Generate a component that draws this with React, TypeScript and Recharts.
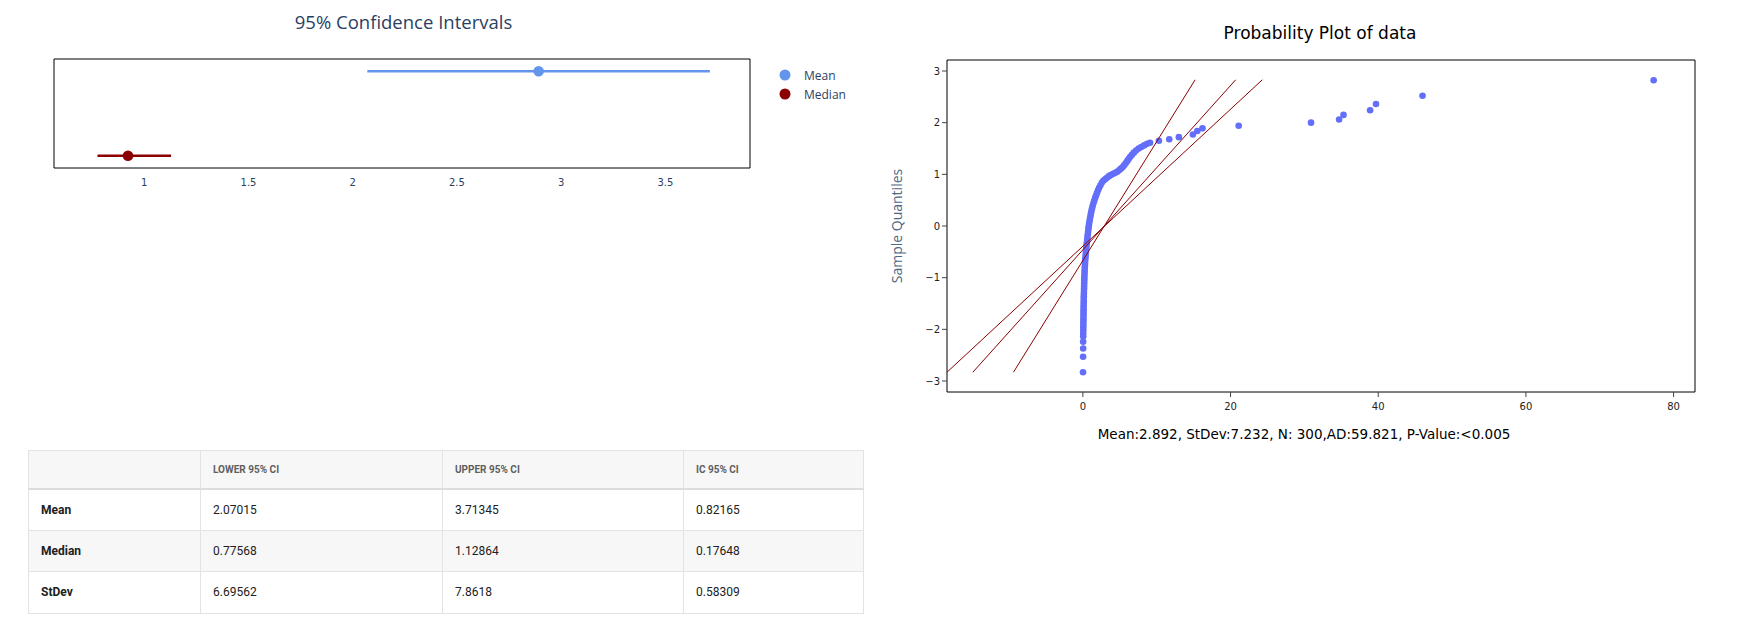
import React from 'react';
import { ScatterChart, Scatter, XAxis, YAxis, ErrorBar, ReferenceArea } from 'recharts';

// confidence interval panel
const ciSeries = ['Mean', 'Median'];
const ciEstimate = [2.892, 0.922];
const ciLower = [2.07015, 0.77568];
const ciUpper = [3.71345, 1.12864];
const ciRow = [1, 0];
const ciColors = ['#6495ed', '#8b0000'];
const ciTicks = [1, 1.5, 2, 2.5, 3, 3.5];

// summary table
const tableHeaders = ['', 'LOWER 95% CI', 'UPPER 95% CI', 'IC 95% CI'];
const tableRows = ['Mean', 'Median', 'StDev'];
const tableLower = ['2.07015', '0.77568', '6.69562'];
const tableUpper = ['3.71345', '1.12864', '7.8618'];
const tableWidth = ['0.82165', '0.17648', '0.58309'];

// probability plot: sample values (x) against normal quantiles (y)
const sampleValues = [
  0.02, 0.03, 0.04, 0.04, 0.05, 0.05, 0.06, 0.06, 0.07, 0.07,
  0.08, 0.08, 0.09, 0.09, 0.1, 0.1, 0.11, 0.12, 0.12, 0.13,
  0.14, 0.15, 0.16, 0.17, 0.18, 0.19, 0.2, 0.21, 0.23, 0.24,
  0.26, 0.28, 0.3, 0.32, 0.35, 0.38, 0.41, 0.44, 0.47, 0.51,
  0.55, 0.59, 0.63, 0.67, 0.71, 0.75, 0.79, 0.84, 0.9, 0.96,
  1.02, 1.09, 1.16, 1.24, 1.33, 1.43, 1.54, 1.66, 1.78, 1.91,
  2.05, 2.2, 2.38, 2.58, 2.8, 3.05, 3.3, 3.58, 3.85, 4.12,
  4.4, 4.65, 4.9, 5.15, 5.4, 5.62, 5.82, 6.02, 6.22, 6.42,
  6.65, 6.9, 7.2, 7.55, 7.9, 8.3, 8.7, 9.1, 10.3, 11.7,
  13.0, 14.9, 15.5, 16.2, 21.1, 30.9, 34.7, 35.3, 38.9, 39.7,
  46.0, 77.3,
];
const normalQuantiles = [
  -2.83, -2.53, -2.37, -2.24, -2.14, -2.08, -2.02, -1.96, -1.91, -1.86,
  -1.81, -1.76, -1.71, -1.66, -1.61, -1.56, -1.51, -1.46, -1.41, -1.36,
  -1.31, -1.26, -1.21, -1.16, -1.11, -1.06, -1.01, -0.96, -0.91, -0.86,
  -0.81, -0.76, -0.71, -0.66, -0.61, -0.56, -0.51, -0.46, -0.41, -0.36,
  -0.31, -0.26, -0.21, -0.16, -0.11, -0.06, -0.01, 0.04, 0.09, 0.14,
  0.19, 0.24, 0.29, 0.34, 0.39, 0.44, 0.49, 0.54, 0.59, 0.64,
  0.69, 0.74, 0.79, 0.84, 0.88, 0.91, 0.94, 0.97, 0.99, 1.01,
  1.03, 1.05, 1.08, 1.11, 1.14, 1.18, 1.22, 1.26, 1.3, 1.34,
  1.38, 1.42, 1.46, 1.5, 1.53, 1.56, 1.59, 1.61, 1.65, 1.68,
  1.72, 1.77, 1.84, 1.89, 1.94, 2.0, 2.06, 2.15, 2.24, 2.36,
  2.52, 2.82,
];

// reference lines, two end points each
const refQuantiles = [-2.83, 2.83];
const refLineSteep = [-9.4, 15.2];
const refLineMid = [-14.9, 20.7];
const refLineFlat = [-18.4, 24.3];

const probXTicks = [0, 20, 40, 60, 80];
const probYTicks = [-3, -2, -1, 0, 1, 2, 3];

const X_MIN = -18.4;
const X_MAX = 82.9;
const Y_LIM = 3.213;

const minus = (v: number) => (v < 0 ? `\u2212${Math.abs(v)}` : `${v}`);

function ConfidenceChart() {
  const series = ciSeries.map((name, i) => ({
    name,
    color: ciColors[i],
    data: [{ x: ciEstimate[i], y: ciRow[i], err: [ciEstimate[i] - ciLower[i], ciUpper[i] - ciEstimate[i]] }],
  }));

  return (
    <ScatterChart width={880} height={200} margin={{ top: 59, right: 130, bottom: 12, left: 54 }}>
      <XAxis
        type="number"
        dataKey="x"
        domain={[0.567, 3.906]}
        ticks={ciTicks}
        interval={0}
        allowDataOverflow
        axisLine={false}
        tickLine={false}
        tickMargin={5}
        height={20}
        tick={{ fontSize: 10, fill: '#2a3f5f', fontFamily: 'DejaVu Sans' }}
      />
      <YAxis type="number" dataKey="y" domain={[-0.145, 1.145]} allowDataOverflow hide />
      <ReferenceArea x1={0.567} x2={3.906} y1={-0.145} y2={1.145} fill="none" stroke="#000" strokeWidth={1} />
      {series.map((s) => (
        <Scatter
          key={s.name}
          name={s.name}
          data={s.data}
          fill={s.color}
          isAnimationActive={false}
          shape={(p: any) => <circle cx={p.cx} cy={p.cy} r={5.3} fill={s.color} />}
        >
          <ErrorBar dataKey="err" direction="x" width={0} stroke={s.color} strokeWidth={2.5} />
        </Scatter>
      ))}
    </ScatterChart>
  );
}

function ProbabilityChart() {
  const points = sampleValues.map((x, i) => ({ x, y: normalQuantiles[i] }));
  const lines = [refLineSteep, refLineMid, refLineFlat].map((xs) =>
    xs.map((x, i) => ({ x, y: refQuantiles[i] }))
  );

  return (
    <ScatterChart width={868} height={460} margin={{ top: 60, right: 53, bottom: 43, left: 37 }}>
      <XAxis
        type="number"
        dataKey="x"
        domain={[X_MIN, X_MAX]}
        ticks={probXTicks}
        interval={0}
        allowDataOverflow
        axisLine={false}
        tickSize={5}
        tickMargin={6}
        height={25}
        stroke="#444"
        tick={{ fontSize: 10, fill: '#222', fontFamily: 'DejaVu Sans' }}
      />
      <YAxis
        type="number"
        dataKey="y"
        domain={[-Y_LIM, Y_LIM]}
        ticks={probYTicks}
        interval={0}
        allowDataOverflow
        axisLine={false}
        tickSize={5}
        tickMargin={2}
        width={30}
        stroke="#444"
        tickFormatter={minus}
        tick={{ fontSize: 10, fill: '#222', fontFamily: 'DejaVu Sans' }}
      />
      <ReferenceArea x1={X_MIN} x2={X_MAX} y1={-Y_LIM} y2={Y_LIM} fill="none" stroke="#000" strokeWidth={1} />
      <Scatter
        data={points}
        fill="#636efa"
        isAnimationActive={false}
        shape={(p: any) => <circle cx={p.cx} cy={p.cy} r={3.3} fill="#636efa" />}
      />
      {lines.map((d, i) => (
        <Scatter
          key={i}
          data={d}
          line={{ stroke: '#8b0000', strokeWidth: 1 }}
          shape={() => <g />}
          isAnimationActive={false}
        />
      ))}
    </ScatterChart>
  );
}

const cell: React.CSSProperties = {
  border: '1px solid #e3e3e3',
  padding: '0 12px',
  textAlign: 'left',
  fontSize: 12,
  color: '#212121',
};

function SummaryTable() {
  const colWidths = [172, 242, 241, 180];
  return (
    <table
      style={{
        position: 'absolute',
        left: 28,
        top: 450,
        width: 835,
        borderCollapse: 'collapse',
        fontFamily: 'Roboto, sans-serif',
        tableLayout: 'fixed',
      }}
    >
      <colgroup>
        {colWidths.map((w, i) => (
          <col key={i} style={{ width: w }} />
        ))}
      </colgroup>
      <thead>
        <tr style={{ height: 38, background: '#f7f7f7' }}>
          {tableHeaders.map((h, i) => (
            <th
              key={i}
              style={{ ...cell, fontSize: 10, fontWeight: 700, color: '#5f5f5f', borderBottom: '2px solid #dcdcdc' }}
            >
              {h}
            </th>
          ))}
        </tr>
      </thead>
      <tbody>
        {tableRows.map((r, i) => (
          <tr key={r} style={{ height: 41.5, background: i === 1 ? '#f7f7f7' : '#fff' }}>
            <td style={{ ...cell, fontWeight: 700 }}>{r}</td>
            <td style={cell}>{tableLower[i]}</td>
            <td style={cell}>{tableUpper[i]}</td>
            <td style={cell}>{tableWidth[i]}</td>
          </tr>
        ))}
      </tbody>
    </table>
  );
}

export default function App() {
  return (
    <div style={{ position: 'absolute', left: 0, top: 0, width: 1748, height: 635, background: '#fff', overflow: 'hidden' }}>
      <div
        style={{
          position: 'absolute', left: 0, width: 807, top: 11, textAlign: 'center',
          fontFamily: 'Open Sans', fontSize: 18.5, color: '#2a3f5f', lineHeight: '22px',
        }}
      >
        95% Confidence Intervals
      </div>
      <div style={{ position: 'absolute', left: 0, top: 0 }}>
        <ConfidenceChart />
      </div>
      {ciSeries.map((name, i) => (
        <div
          key={name}
          style={{ position: 'absolute', left: 779, top: 66 + i * 19, display: 'flex', alignItems: 'center', height: 18 }}
        >
          <svg width={12} height={12}>
            <circle cx={6} cy={6} r={5.5} fill={ciColors[i]} />
          </svg>
          <span style={{ marginLeft: 13, fontFamily: 'Open Sans', fontSize: 12, color: '#2a3f5f' }}>{name}</span>
        </div>
      ))}

      <div
        style={{
          position: 'absolute', left: 1120, width: 400, top: 23, textAlign: 'center',
          fontFamily: 'DejaVu Sans', fontSize: 17, color: '#000', lineHeight: '20px',
        }}
      >
        Probability Plot of data
      </div>
      <div style={{ position: 'absolute', left: 880, top: 0 }}>
        <ProbabilityChart />
      </div>
      <div
        style={{
          position: 'absolute', left: 797, top: 216, width: 200, textAlign: 'center', lineHeight: '20px',
          transform: 'rotate(-90deg)', fontFamily: 'Open Sans', fontSize: 14, color: '#506784',
        }}
      >
        Sample Quantiles
      </div>
      <div
        style={{
          position: 'absolute', left: 1004, width: 600, top: 424, textAlign: 'center',
          fontFamily: 'DejaVu Sans', fontSize: 13.5, color: '#000', lineHeight: '20px',
        }}
      >
        Mean:2.892, StDev:7.232, N: 300,AD:59.821, P-Value:&lt;0.005
      </div>

      <SummaryTable />
    </div>
  );
}
